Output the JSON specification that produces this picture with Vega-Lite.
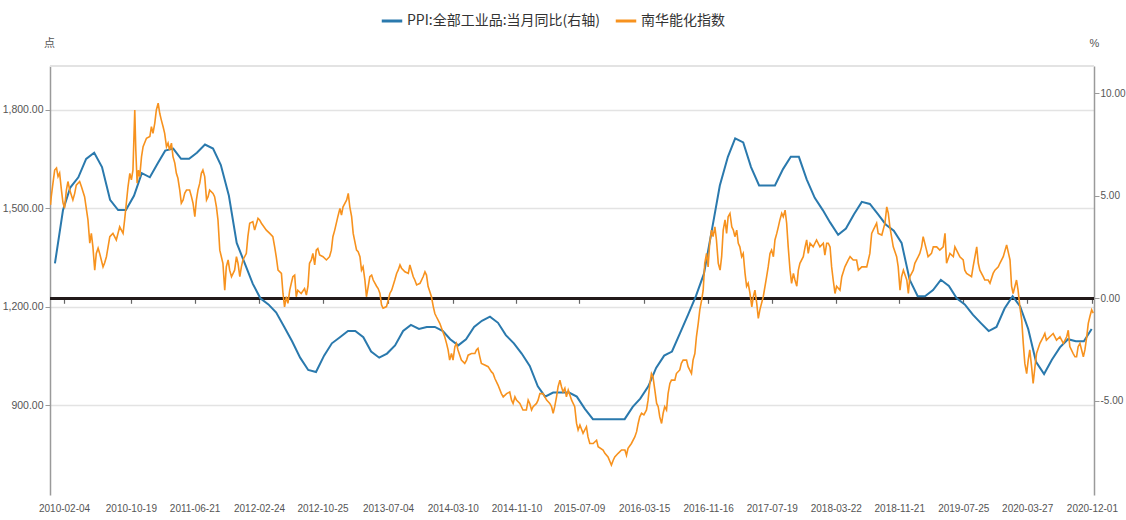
{
  "$schema": "https://vega.github.io/schema/vega-lite/v6.json",
  "width": 1044,
  "height": 429,
  "autosize": {"type": "none"},
  "padding": {"left": 50, "top": 66, "right": 32, "bottom": 25},
  "datasets": {
    "ppi": [
      {"date": "2009-12-31", "ppi": 1.7},
      {"date": "2010-01-31", "ppi": 4.3}, {"date": "2010-02-28", "ppi": 5.4}, {"date": "2010-03-31", "ppi": 5.9},
      {"date": "2010-04-30", "ppi": 6.8}, {"date": "2010-05-31", "ppi": 7.1}, {"date": "2010-06-30", "ppi": 6.4},
      {"date": "2010-07-31", "ppi": 4.8}, {"date": "2010-08-31", "ppi": 4.3}, {"date": "2010-09-30", "ppi": 4.3},
      {"date": "2010-10-31", "ppi": 5.0}, {"date": "2010-11-30", "ppi": 6.1}, {"date": "2010-12-31", "ppi": 5.9},
      {"date": "2011-01-31", "ppi": 6.6}, {"date": "2011-02-28", "ppi": 7.2}, {"date": "2011-03-31", "ppi": 7.3},
      {"date": "2011-04-30", "ppi": 6.8}, {"date": "2011-05-31", "ppi": 6.8}, {"date": "2011-06-30", "ppi": 7.1},
      {"date": "2011-07-31", "ppi": 7.5}, {"date": "2011-08-31", "ppi": 7.3}, {"date": "2011-09-30", "ppi": 6.5},
      {"date": "2011-10-31", "ppi": 5.0}, {"date": "2011-11-30", "ppi": 2.7}, {"date": "2011-12-31", "ppi": 1.7},
      {"date": "2012-01-31", "ppi": 0.7}, {"date": "2012-02-29", "ppi": 0.0}, {"date": "2012-03-31", "ppi": -0.3},
      {"date": "2012-04-30", "ppi": -0.7}, {"date": "2012-05-31", "ppi": -1.4}, {"date": "2012-06-30", "ppi": -2.1},
      {"date": "2012-07-31", "ppi": -2.9}, {"date": "2012-08-31", "ppi": -3.5}, {"date": "2012-09-30", "ppi": -3.6},
      {"date": "2012-10-31", "ppi": -2.8}, {"date": "2012-11-30", "ppi": -2.2}, {"date": "2012-12-31", "ppi": -1.9},
      {"date": "2013-01-31", "ppi": -1.6}, {"date": "2013-02-28", "ppi": -1.6}, {"date": "2013-03-31", "ppi": -1.9},
      {"date": "2013-04-30", "ppi": -2.6}, {"date": "2013-05-31", "ppi": -2.9}, {"date": "2013-06-30", "ppi": -2.7},
      {"date": "2013-07-31", "ppi": -2.3}, {"date": "2013-08-31", "ppi": -1.6}, {"date": "2013-09-30", "ppi": -1.3},
      {"date": "2013-10-31", "ppi": -1.5}, {"date": "2013-11-30", "ppi": -1.4}, {"date": "2013-12-31", "ppi": -1.4},
      {"date": "2014-01-31", "ppi": -1.6}, {"date": "2014-02-28", "ppi": -2.0}, {"date": "2014-03-31", "ppi": -2.3},
      {"date": "2014-04-30", "ppi": -2.0}, {"date": "2014-05-31", "ppi": -1.4}, {"date": "2014-06-30", "ppi": -1.1},
      {"date": "2014-07-31", "ppi": -0.9}, {"date": "2014-08-31", "ppi": -1.2}, {"date": "2014-09-30", "ppi": -1.8},
      {"date": "2014-10-31", "ppi": -2.2}, {"date": "2014-11-30", "ppi": -2.7}, {"date": "2014-12-31", "ppi": -3.3},
      {"date": "2015-01-31", "ppi": -4.3}, {"date": "2015-02-28", "ppi": -4.8}, {"date": "2015-03-31", "ppi": -4.6},
      {"date": "2015-04-30", "ppi": -4.6}, {"date": "2015-05-31", "ppi": -4.6}, {"date": "2015-06-30", "ppi": -4.8},
      {"date": "2015-07-31", "ppi": -5.4}, {"date": "2015-08-31", "ppi": -5.9}, {"date": "2015-09-30", "ppi": -5.9},
      {"date": "2015-10-31", "ppi": -5.9}, {"date": "2015-11-30", "ppi": -5.9}, {"date": "2015-12-31", "ppi": -5.9},
      {"date": "2016-01-31", "ppi": -5.3}, {"date": "2016-02-29", "ppi": -4.9}, {"date": "2016-03-31", "ppi": -4.3},
      {"date": "2016-04-30", "ppi": -3.4}, {"date": "2016-05-31", "ppi": -2.8}, {"date": "2016-06-30", "ppi": -2.6},
      {"date": "2016-07-31", "ppi": -1.7}, {"date": "2016-08-31", "ppi": -0.8}, {"date": "2016-09-30", "ppi": 0.1},
      {"date": "2016-10-31", "ppi": 1.2}, {"date": "2016-11-30", "ppi": 3.3}, {"date": "2016-12-31", "ppi": 5.5},
      {"date": "2017-01-31", "ppi": 6.9}, {"date": "2017-02-28", "ppi": 7.8}, {"date": "2017-03-31", "ppi": 7.6},
      {"date": "2017-04-30", "ppi": 6.4}, {"date": "2017-05-31", "ppi": 5.5}, {"date": "2017-06-30", "ppi": 5.5},
      {"date": "2017-07-31", "ppi": 5.5}, {"date": "2017-08-31", "ppi": 6.3}, {"date": "2017-09-30", "ppi": 6.9},
      {"date": "2017-10-31", "ppi": 6.9}, {"date": "2017-11-30", "ppi": 5.8}, {"date": "2017-12-31", "ppi": 4.9},
      {"date": "2018-01-31", "ppi": 4.3}, {"date": "2018-02-28", "ppi": 3.7}, {"date": "2018-03-31", "ppi": 3.1},
      {"date": "2018-04-30", "ppi": 3.4}, {"date": "2018-05-31", "ppi": 4.1}, {"date": "2018-06-30", "ppi": 4.7},
      {"date": "2018-07-31", "ppi": 4.6}, {"date": "2018-08-31", "ppi": 4.1}, {"date": "2018-09-30", "ppi": 3.6},
      {"date": "2018-10-31", "ppi": 3.3}, {"date": "2018-11-30", "ppi": 2.7}, {"date": "2018-12-31", "ppi": 0.9},
      {"date": "2019-01-31", "ppi": 0.1}, {"date": "2019-02-28", "ppi": 0.1}, {"date": "2019-03-31", "ppi": 0.4},
      {"date": "2019-04-30", "ppi": 0.9}, {"date": "2019-05-31", "ppi": 0.6}, {"date": "2019-06-30", "ppi": 0.0},
      {"date": "2019-07-31", "ppi": -0.3}, {"date": "2019-08-31", "ppi": -0.8}, {"date": "2019-09-30", "ppi": -1.2},
      {"date": "2019-10-31", "ppi": -1.6}, {"date": "2019-11-30", "ppi": -1.4}, {"date": "2019-12-31", "ppi": -0.5},
      {"date": "2020-01-31", "ppi": 0.1}, {"date": "2020-02-29", "ppi": -0.4}, {"date": "2020-03-31", "ppi": -1.5},
      {"date": "2020-04-30", "ppi": -3.1}, {"date": "2020-05-31", "ppi": -3.7}, {"date": "2020-06-30", "ppi": -3.0},
      {"date": "2020-07-31", "ppi": -2.4}, {"date": "2020-08-31", "ppi": -2.0}, {"date": "2020-09-30", "ppi": -2.1},
      {"date": "2020-10-31", "ppi": -2.1}, {"date": "2020-11-30", "ppi": -1.5}
    ],
    "nh": [
      {"date": "2009-12-14", "nh": 1510}, {"date": "2009-12-17", "nh": 1536}, {"date": "2009-12-24", "nh": 1580},
      {"date": "2009-12-30", "nh": 1616}, {"date": "2010-01-06", "nh": 1622}, {"date": "2010-01-12", "nh": 1596},
      {"date": "2010-01-18", "nh": 1607}, {"date": "2010-01-25", "nh": 1555}, {"date": "2010-01-31", "nh": 1516},
      {"date": "2010-02-06", "nh": 1500}, {"date": "2010-02-13", "nh": 1555}, {"date": "2010-02-19", "nh": 1581},
      {"date": "2010-02-26", "nh": 1555}, {"date": "2010-03-10", "nh": 1525}, {"date": "2010-03-17", "nh": 1545},
      {"date": "2010-03-23", "nh": 1570}, {"date": "2010-04-05", "nh": 1581}, {"date": "2010-04-12", "nh": 1565},
      {"date": "2010-04-24", "nh": 1535}, {"date": "2010-05-07", "nh": 1464}, {"date": "2010-05-14", "nh": 1393},
      {"date": "2010-05-20", "nh": 1423}, {"date": "2010-05-26", "nh": 1382}, {"date": "2010-06-02", "nh": 1311},
      {"date": "2010-06-08", "nh": 1362}, {"date": "2010-06-15", "nh": 1378}, {"date": "2010-06-21", "nh": 1362},
      {"date": "2010-07-04", "nh": 1321}, {"date": "2010-07-10", "nh": 1333}, {"date": "2010-07-17", "nh": 1352},
      {"date": "2010-07-30", "nh": 1413}, {"date": "2010-08-11", "nh": 1423}, {"date": "2010-08-24", "nh": 1403},
      {"date": "2010-09-06", "nh": 1443}, {"date": "2010-09-19", "nh": 1423}, {"date": "2010-09-25", "nh": 1464},
      {"date": "2010-10-08", "nh": 1565}, {"date": "2010-10-15", "nh": 1606}, {"date": "2010-10-21", "nh": 1586},
      {"date": "2010-10-27", "nh": 1616}, {"date": "2010-11-03", "nh": 1799}, {"date": "2010-11-07", "nh": 1677},
      {"date": "2010-11-12", "nh": 1576}, {"date": "2010-11-17", "nh": 1616}, {"date": "2010-11-22", "nh": 1596},
      {"date": "2010-11-29", "nh": 1657}, {"date": "2010-12-05", "nh": 1687}, {"date": "2010-12-18", "nh": 1713},
      {"date": "2010-12-31", "nh": 1718}, {"date": "2011-01-06", "nh": 1748}, {"date": "2011-01-12", "nh": 1728},
      {"date": "2011-01-19", "nh": 1759}, {"date": "2011-01-25", "nh": 1799}, {"date": "2011-02-01", "nh": 1820},
      {"date": "2011-02-07", "nh": 1789}, {"date": "2011-02-13", "nh": 1769}, {"date": "2011-02-20", "nh": 1748},
      {"date": "2011-02-26", "nh": 1728}, {"date": "2011-03-05", "nh": 1687}, {"date": "2011-03-11", "nh": 1698},
      {"date": "2011-03-17", "nh": 1677}, {"date": "2011-03-24", "nh": 1698}, {"date": "2011-03-30", "nh": 1657},
      {"date": "2011-04-06", "nh": 1637}, {"date": "2011-04-12", "nh": 1606}, {"date": "2011-04-18", "nh": 1591},
      {"date": "2011-04-25", "nh": 1555}, {"date": "2011-05-01", "nh": 1515}, {"date": "2011-05-08", "nh": 1525},
      {"date": "2011-05-14", "nh": 1545}, {"date": "2011-05-21", "nh": 1555}, {"date": "2011-06-02", "nh": 1555},
      {"date": "2011-06-09", "nh": 1535}, {"date": "2011-06-15", "nh": 1515}, {"date": "2011-06-22", "nh": 1474},
      {"date": "2011-06-28", "nh": 1525}, {"date": "2011-07-04", "nh": 1555}, {"date": "2011-07-11", "nh": 1576},
      {"date": "2011-07-17", "nh": 1606}, {"date": "2011-07-23", "nh": 1616}, {"date": "2011-07-30", "nh": 1596},
      {"date": "2011-08-06", "nh": 1525}, {"date": "2011-08-12", "nh": 1535}, {"date": "2011-08-18", "nh": 1555},
      {"date": "2011-08-31", "nh": 1545}, {"date": "2011-09-06", "nh": 1535}, {"date": "2011-09-13", "nh": 1504},
      {"date": "2011-09-19", "nh": 1464}, {"date": "2011-09-26", "nh": 1372}, {"date": "2011-10-08", "nh": 1332},
      {"date": "2011-10-15", "nh": 1250}, {"date": "2011-10-21", "nh": 1321}, {"date": "2011-10-28", "nh": 1342},
      {"date": "2011-11-03", "nh": 1311}, {"date": "2011-11-10", "nh": 1291}, {"date": "2011-11-22", "nh": 1311},
      {"date": "2011-11-29", "nh": 1352}, {"date": "2011-12-05", "nh": 1332}, {"date": "2011-12-12", "nh": 1291},
      {"date": "2011-12-18", "nh": 1321}, {"date": "2011-12-24", "nh": 1342}, {"date": "2012-01-06", "nh": 1362},
      {"date": "2012-01-12", "nh": 1413}, {"date": "2012-01-19", "nh": 1454}, {"date": "2012-01-31", "nh": 1459},
      {"date": "2012-02-07", "nh": 1433}, {"date": "2012-02-20", "nh": 1469}, {"date": "2012-02-26", "nh": 1464},
      {"date": "2012-03-04", "nh": 1454}, {"date": "2012-03-23", "nh": 1433}, {"date": "2012-04-05", "nh": 1423},
      {"date": "2012-04-17", "nh": 1413}, {"date": "2012-04-24", "nh": 1382}, {"date": "2012-04-30", "nh": 1352},
      {"date": "2012-05-07", "nh": 1311}, {"date": "2012-05-20", "nh": 1301}, {"date": "2012-05-26", "nh": 1240},
      {"date": "2012-06-01", "nh": 1199}, {"date": "2012-06-08", "nh": 1230}, {"date": "2012-06-14", "nh": 1210},
      {"date": "2012-06-21", "nh": 1250}, {"date": "2012-06-27", "nh": 1271}, {"date": "2012-07-03", "nh": 1291},
      {"date": "2012-07-10", "nh": 1296}, {"date": "2012-07-16", "nh": 1230}, {"date": "2012-07-22", "nh": 1250},
      {"date": "2012-08-04", "nh": 1240}, {"date": "2012-08-17", "nh": 1255}, {"date": "2012-08-24", "nh": 1235},
      {"date": "2012-08-30", "nh": 1262}, {"date": "2012-09-05", "nh": 1332}, {"date": "2012-09-12", "nh": 1342},
      {"date": "2012-09-18", "nh": 1362}, {"date": "2012-09-25", "nh": 1327}, {"date": "2012-10-01", "nh": 1372},
      {"date": "2012-10-07", "nh": 1377}, {"date": "2012-10-14", "nh": 1357}, {"date": "2012-10-27", "nh": 1352},
      {"date": "2012-11-09", "nh": 1342}, {"date": "2012-11-21", "nh": 1352}, {"date": "2012-11-28", "nh": 1372},
      {"date": "2012-12-04", "nh": 1413}, {"date": "2012-12-11", "nh": 1433}, {"date": "2012-12-23", "nh": 1474},
      {"date": "2012-12-31", "nh": 1499}, {"date": "2013-01-06", "nh": 1479}, {"date": "2013-01-12", "nh": 1504},
      {"date": "2013-01-26", "nh": 1525}, {"date": "2013-02-01", "nh": 1545}, {"date": "2013-02-07", "nh": 1504},
      {"date": "2013-02-14", "nh": 1474}, {"date": "2013-02-20", "nh": 1423}, {"date": "2013-03-05", "nh": 1372},
      {"date": "2013-03-11", "nh": 1367}, {"date": "2013-03-18", "nh": 1352}, {"date": "2013-03-24", "nh": 1311},
      {"date": "2013-03-30", "nh": 1321}, {"date": "2013-04-06", "nh": 1281}, {"date": "2013-04-12", "nh": 1230},
      {"date": "2013-04-19", "nh": 1262}, {"date": "2013-04-25", "nh": 1291}, {"date": "2013-05-02", "nh": 1296},
      {"date": "2013-05-08", "nh": 1281}, {"date": "2013-05-21", "nh": 1262}, {"date": "2013-05-27", "nh": 1255},
      {"date": "2013-06-03", "nh": 1240}, {"date": "2013-06-09", "nh": 1205}, {"date": "2013-06-15", "nh": 1195},
      {"date": "2013-06-28", "nh": 1200}, {"date": "2013-07-05", "nh": 1220}, {"date": "2013-07-11", "nh": 1240},
      {"date": "2013-07-18", "nh": 1250}, {"date": "2013-07-30", "nh": 1281}, {"date": "2013-08-06", "nh": 1301},
      {"date": "2013-08-12", "nh": 1311}, {"date": "2013-08-19", "nh": 1327}, {"date": "2013-08-25", "nh": 1317},
      {"date": "2013-09-07", "nh": 1306}, {"date": "2013-09-20", "nh": 1301}, {"date": "2013-09-26", "nh": 1327},
      {"date": "2013-10-09", "nh": 1291}, {"date": "2013-10-15", "nh": 1281}, {"date": "2013-10-22", "nh": 1266},
      {"date": "2013-11-04", "nh": 1271}, {"date": "2013-11-16", "nh": 1291}, {"date": "2013-11-23", "nh": 1306},
      {"date": "2013-11-29", "nh": 1296}, {"date": "2013-12-05", "nh": 1262}, {"date": "2013-12-18", "nh": 1230},
      {"date": "2013-12-25", "nh": 1200}, {"date": "2013-12-31", "nh": 1179}, {"date": "2014-01-06", "nh": 1169},
      {"date": "2014-01-19", "nh": 1149}, {"date": "2014-01-26", "nh": 1134}, {"date": "2014-02-07", "nh": 1108},
      {"date": "2014-02-14", "nh": 1088}, {"date": "2014-02-20", "nh": 1068}, {"date": "2014-02-26", "nh": 1037},
      {"date": "2014-03-05", "nh": 1057}, {"date": "2014-03-11", "nh": 1037}, {"date": "2014-03-18", "nh": 1078},
      {"date": "2014-03-24", "nh": 1088}, {"date": "2014-03-30", "nh": 1068}, {"date": "2014-04-12", "nh": 1037},
      {"date": "2014-04-25", "nh": 1027}, {"date": "2014-05-02", "nh": 1037}, {"date": "2014-05-08", "nh": 1052},
      {"date": "2014-05-21", "nh": 1057}, {"date": "2014-06-03", "nh": 1057}, {"date": "2014-06-09", "nh": 1068},
      {"date": "2014-06-15", "nh": 1073}, {"date": "2014-06-22", "nh": 1047}, {"date": "2014-06-28", "nh": 1027},
      {"date": "2014-07-11", "nh": 1022}, {"date": "2014-07-24", "nh": 1017}, {"date": "2014-08-06", "nh": 1001},
      {"date": "2014-08-12", "nh": 996}, {"date": "2014-08-19", "nh": 981}, {"date": "2014-08-31", "nh": 961},
      {"date": "2014-09-13", "nh": 935}, {"date": "2014-09-20", "nh": 925}, {"date": "2014-10-03", "nh": 935},
      {"date": "2014-10-15", "nh": 940}, {"date": "2014-10-22", "nh": 915}, {"date": "2014-10-28", "nh": 905},
      {"date": "2014-11-04", "nh": 925}, {"date": "2014-11-10", "nh": 915}, {"date": "2014-11-23", "nh": 905},
      {"date": "2014-12-05", "nh": 885}, {"date": "2014-12-18", "nh": 885}, {"date": "2014-12-25", "nh": 915},
      {"date": "2014-12-31", "nh": 905}, {"date": "2015-01-07", "nh": 885}, {"date": "2015-01-13", "nh": 895},
      {"date": "2015-01-26", "nh": 905}, {"date": "2015-02-01", "nh": 915}, {"date": "2015-02-08", "nh": 935},
      {"date": "2015-02-20", "nh": 935}, {"date": "2015-02-27", "nh": 925}, {"date": "2015-03-06", "nh": 915},
      {"date": "2015-03-12", "nh": 910}, {"date": "2015-03-18", "nh": 905}, {"date": "2015-03-25", "nh": 895},
      {"date": "2015-03-31", "nh": 875}, {"date": "2015-04-06", "nh": 895}, {"date": "2015-04-13", "nh": 925},
      {"date": "2015-04-19", "nh": 956}, {"date": "2015-04-26", "nh": 976}, {"date": "2015-05-02", "nh": 956},
      {"date": "2015-05-08", "nh": 940}, {"date": "2015-05-15", "nh": 951}, {"date": "2015-05-21", "nh": 925},
      {"date": "2015-05-28", "nh": 946}, {"date": "2015-06-10", "nh": 915}, {"date": "2015-06-22", "nh": 895},
      {"date": "2015-06-29", "nh": 844}, {"date": "2015-07-05", "nh": 824}, {"date": "2015-07-12", "nh": 839},
      {"date": "2015-07-24", "nh": 814}, {"date": "2015-08-06", "nh": 834}, {"date": "2015-08-12", "nh": 803},
      {"date": "2015-08-19", "nh": 783}, {"date": "2015-09-01", "nh": 783}, {"date": "2015-09-14", "nh": 793},
      {"date": "2015-09-20", "nh": 773}, {"date": "2015-10-09", "nh": 763}, {"date": "2015-10-16", "nh": 753},
      {"date": "2015-10-28", "nh": 742}, {"date": "2015-11-10", "nh": 717}, {"date": "2015-11-17", "nh": 732},
      {"date": "2015-11-23", "nh": 742}, {"date": "2015-12-06", "nh": 753}, {"date": "2015-12-19", "nh": 763},
      {"date": "2016-01-01", "nh": 763}, {"date": "2016-01-07", "nh": 747}, {"date": "2016-01-13", "nh": 768},
      {"date": "2016-01-26", "nh": 783}, {"date": "2016-02-08", "nh": 803}, {"date": "2016-02-15", "nh": 819},
      {"date": "2016-02-21", "nh": 844}, {"date": "2016-02-27", "nh": 864}, {"date": "2016-03-05", "nh": 875},
      {"date": "2016-03-14", "nh": 870}, {"date": "2016-03-24", "nh": 885}, {"date": "2016-03-30", "nh": 915},
      {"date": "2016-04-06", "nh": 966}, {"date": "2016-04-12", "nh": 996}, {"date": "2016-04-18", "nh": 986},
      {"date": "2016-04-25", "nh": 946}, {"date": "2016-05-02", "nh": 905}, {"date": "2016-05-08", "nh": 895},
      {"date": "2016-05-14", "nh": 864}, {"date": "2016-05-21", "nh": 844}, {"date": "2016-05-27", "nh": 875},
      {"date": "2016-06-02", "nh": 895}, {"date": "2016-06-09", "nh": 885}, {"date": "2016-06-15", "nh": 935},
      {"date": "2016-06-22", "nh": 966}, {"date": "2016-06-28", "nh": 976}, {"date": "2016-07-11", "nh": 976},
      {"date": "2016-07-17", "nh": 996}, {"date": "2016-07-30", "nh": 1007}, {"date": "2016-08-05", "nh": 1027},
      {"date": "2016-08-12", "nh": 1037}, {"date": "2016-08-25", "nh": 1037}, {"date": "2016-08-31", "nh": 1017},
      {"date": "2016-09-13", "nh": 996}, {"date": "2016-09-19", "nh": 1037}, {"date": "2016-09-26", "nh": 1057},
      {"date": "2016-10-02", "nh": 1108}, {"date": "2016-10-09", "nh": 1149}, {"date": "2016-10-15", "nh": 1190},
      {"date": "2016-10-22", "nh": 1220}, {"date": "2016-10-28", "nh": 1250}, {"date": "2016-11-03", "nh": 1332},
      {"date": "2016-11-10", "nh": 1362}, {"date": "2016-11-16", "nh": 1321}, {"date": "2016-11-22", "nh": 1393},
      {"date": "2016-11-29", "nh": 1433}, {"date": "2016-12-05", "nh": 1413}, {"date": "2016-12-12", "nh": 1443},
      {"date": "2016-12-18", "nh": 1403}, {"date": "2016-12-25", "nh": 1332}, {"date": "2017-01-01", "nh": 1311},
      {"date": "2017-01-07", "nh": 1352}, {"date": "2017-01-13", "nh": 1433}, {"date": "2017-01-20", "nh": 1464},
      {"date": "2017-01-26", "nh": 1423}, {"date": "2017-02-01", "nh": 1474}, {"date": "2017-02-08", "nh": 1484},
      {"date": "2017-02-15", "nh": 1443}, {"date": "2017-02-21", "nh": 1433}, {"date": "2017-02-27", "nh": 1413},
      {"date": "2017-03-06", "nh": 1433}, {"date": "2017-03-12", "nh": 1393}, {"date": "2017-03-18", "nh": 1382},
      {"date": "2017-03-25", "nh": 1352}, {"date": "2017-03-31", "nh": 1362}, {"date": "2017-04-07", "nh": 1301},
      {"date": "2017-04-13", "nh": 1262}, {"date": "2017-04-19", "nh": 1271}, {"date": "2017-04-26", "nh": 1240},
      {"date": "2017-05-03", "nh": 1199}, {"date": "2017-05-09", "nh": 1230}, {"date": "2017-05-15", "nh": 1250},
      {"date": "2017-05-22", "nh": 1210}, {"date": "2017-05-28", "nh": 1164}, {"date": "2017-06-03", "nh": 1190},
      {"date": "2017-06-16", "nh": 1230}, {"date": "2017-06-29", "nh": 1291}, {"date": "2017-07-05", "nh": 1321},
      {"date": "2017-07-12", "nh": 1362}, {"date": "2017-07-18", "nh": 1372}, {"date": "2017-07-25", "nh": 1352},
      {"date": "2017-07-31", "nh": 1403}, {"date": "2017-08-07", "nh": 1423}, {"date": "2017-08-13", "nh": 1443},
      {"date": "2017-08-19", "nh": 1464}, {"date": "2017-08-26", "nh": 1484}, {"date": "2017-09-01", "nh": 1474},
      {"date": "2017-09-08", "nh": 1494}, {"date": "2017-09-14", "nh": 1454}, {"date": "2017-09-20", "nh": 1382},
      {"date": "2017-09-27", "nh": 1311}, {"date": "2017-10-03", "nh": 1271}, {"date": "2017-10-10", "nh": 1301},
      {"date": "2017-10-16", "nh": 1281}, {"date": "2017-10-23", "nh": 1262}, {"date": "2017-10-29", "nh": 1311},
      {"date": "2017-11-04", "nh": 1332}, {"date": "2017-11-17", "nh": 1352}, {"date": "2017-11-24", "nh": 1382},
      {"date": "2017-11-30", "nh": 1403}, {"date": "2017-12-06", "nh": 1362}, {"date": "2017-12-13", "nh": 1393},
      {"date": "2017-12-25", "nh": 1382}, {"date": "2018-01-07", "nh": 1403}, {"date": "2018-01-20", "nh": 1382},
      {"date": "2018-02-02", "nh": 1393}, {"date": "2018-02-08", "nh": 1357}, {"date": "2018-02-15", "nh": 1393},
      {"date": "2018-02-21", "nh": 1393}, {"date": "2018-02-28", "nh": 1382}, {"date": "2018-03-06", "nh": 1321},
      {"date": "2018-03-12", "nh": 1281}, {"date": "2018-03-19", "nh": 1240}, {"date": "2018-03-25", "nh": 1262},
      {"date": "2018-04-07", "nh": 1250}, {"date": "2018-04-14", "nh": 1291}, {"date": "2018-04-26", "nh": 1321},
      {"date": "2018-05-09", "nh": 1342}, {"date": "2018-05-16", "nh": 1352}, {"date": "2018-05-28", "nh": 1342},
      {"date": "2018-06-10", "nh": 1342}, {"date": "2018-06-17", "nh": 1311}, {"date": "2018-06-30", "nh": 1321},
      {"date": "2018-07-19", "nh": 1321}, {"date": "2018-07-31", "nh": 1362}, {"date": "2018-08-07", "nh": 1423},
      {"date": "2018-08-13", "nh": 1433}, {"date": "2018-08-26", "nh": 1454}, {"date": "2018-09-01", "nh": 1423},
      {"date": "2018-09-15", "nh": 1418}, {"date": "2018-09-27", "nh": 1454}, {"date": "2018-10-04", "nh": 1504},
      {"date": "2018-10-10", "nh": 1484}, {"date": "2018-10-16", "nh": 1443}, {"date": "2018-10-29", "nh": 1382},
      {"date": "2018-11-11", "nh": 1352}, {"date": "2018-11-17", "nh": 1321}, {"date": "2018-11-24", "nh": 1250},
      {"date": "2018-11-30", "nh": 1291}, {"date": "2018-12-07", "nh": 1311}, {"date": "2018-12-20", "nh": 1281},
      {"date": "2018-12-26", "nh": 1240}, {"date": "2019-01-01", "nh": 1291}, {"date": "2019-01-14", "nh": 1311},
      {"date": "2019-01-20", "nh": 1332}, {"date": "2019-02-02", "nh": 1352}, {"date": "2019-02-08", "nh": 1362},
      {"date": "2019-02-15", "nh": 1382}, {"date": "2019-02-21", "nh": 1413}, {"date": "2019-03-06", "nh": 1372},
      {"date": "2019-03-12", "nh": 1352}, {"date": "2019-03-25", "nh": 1362}, {"date": "2019-04-01", "nh": 1382},
      {"date": "2019-04-14", "nh": 1382}, {"date": "2019-04-26", "nh": 1372}, {"date": "2019-05-09", "nh": 1382},
      {"date": "2019-05-16", "nh": 1423}, {"date": "2019-05-22", "nh": 1332}, {"date": "2019-06-04", "nh": 1362},
      {"date": "2019-06-17", "nh": 1352}, {"date": "2019-06-23", "nh": 1382}, {"date": "2019-07-12", "nh": 1352},
      {"date": "2019-07-25", "nh": 1342}, {"date": "2019-07-31", "nh": 1311}, {"date": "2019-08-07", "nh": 1301},
      {"date": "2019-08-26", "nh": 1291}, {"date": "2019-09-01", "nh": 1321}, {"date": "2019-09-15", "nh": 1382},
      {"date": "2019-09-21", "nh": 1332}, {"date": "2019-09-27", "nh": 1311}, {"date": "2019-10-10", "nh": 1291},
      {"date": "2019-10-16", "nh": 1281}, {"date": "2019-10-29", "nh": 1281}, {"date": "2019-11-05", "nh": 1271},
      {"date": "2019-11-17", "nh": 1301}, {"date": "2019-11-24", "nh": 1311}, {"date": "2019-12-07", "nh": 1321},
      {"date": "2019-12-13", "nh": 1332}, {"date": "2019-12-26", "nh": 1352}, {"date": "2020-01-08", "nh": 1388},
      {"date": "2020-01-21", "nh": 1342}, {"date": "2020-01-27", "nh": 1262}, {"date": "2020-02-02", "nh": 1240},
      {"date": "2020-02-15", "nh": 1281}, {"date": "2020-02-21", "nh": 1250}, {"date": "2020-02-28", "nh": 1199},
      {"date": "2020-03-06", "nh": 1159}, {"date": "2020-03-12", "nh": 1088}, {"date": "2020-03-18", "nh": 1027},
      {"date": "2020-03-25", "nh": 996}, {"date": "2020-03-31", "nh": 1037}, {"date": "2020-04-06", "nh": 1068},
      {"date": "2020-04-13", "nh": 1017}, {"date": "2020-04-19", "nh": 966}, {"date": "2020-04-26", "nh": 1017},
      {"date": "2020-05-02", "nh": 1057}, {"date": "2020-05-15", "nh": 1088}, {"date": "2020-05-28", "nh": 1108},
      {"date": "2020-06-03", "nh": 1118}, {"date": "2020-06-09", "nh": 1098}, {"date": "2020-06-22", "nh": 1108},
      {"date": "2020-07-05", "nh": 1118}, {"date": "2020-07-18", "nh": 1098}, {"date": "2020-07-31", "nh": 1108},
      {"date": "2020-08-13", "nh": 1088}, {"date": "2020-08-26", "nh": 1108}, {"date": "2020-09-01", "nh": 1128},
      {"date": "2020-09-07", "nh": 1078}, {"date": "2020-09-20", "nh": 1057}, {"date": "2020-09-27", "nh": 1047},
      {"date": "2020-10-03", "nh": 1047}, {"date": "2020-10-09", "nh": 1078}, {"date": "2020-10-16", "nh": 1088},
      {"date": "2020-10-29", "nh": 1047}, {"date": "2020-11-04", "nh": 1068}, {"date": "2020-11-11", "nh": 1108},
      {"date": "2020-11-17", "nh": 1149}, {"date": "2020-11-23", "nh": 1169}, {"date": "2020-11-30", "nh": 1190},
      {"date": "2020-12-06", "nh": 1180}
    ]
  },
  "layer": [
    {
      "data": {"name": "ppi"},
      "layer": [
        {
          "mark": {"type": "rule", "color": "#231a1a", "strokeWidth": 2.2},
          "encoding": {
            "y": {"datum": 0, "type": "quantitative"}
          }
        },
        {
          "mark": {"type": "line", "strokeWidth": 2, "clip": true},
          "encoding": {
            "x": {
              "field": "date",
              "type": "temporal",
              "scale": {"domain": [{"year": 2009, "month": 12, "date": 12, "utc": true}, {"year": 2020, "month": 12, "date": 9, "utc": true}]},
              "axis": {
                "orient": "bottom",
                "offset": -196.7,
                "values": [
                  {"year": 2010, "month": 2, "date": 4, "utc": true},
                  {"year": 2010, "month": 10, "date": 19, "utc": true},
                  {"year": 2011, "month": 6, "date": 21, "utc": true},
                  {"year": 2012, "month": 2, "date": 24, "utc": true},
                  {"year": 2012, "month": 10, "date": 25, "utc": true},
                  {"year": 2013, "month": 7, "date": 4, "utc": true},
                  {"year": 2014, "month": 3, "date": 10, "utc": true},
                  {"year": 2014, "month": 11, "date": 10, "utc": true},
                  {"year": 2015, "month": 7, "date": 9, "utc": true},
                  {"year": 2016, "month": 3, "date": 15, "utc": true},
                  {"year": 2016, "month": 11, "date": 16, "utc": true},
                  {"year": 2017, "month": 7, "date": 19, "utc": true},
                  {"year": 2018, "month": 3, "date": 22, "utc": true},
                  {"year": 2018, "month": 11, "date": 21, "utc": true},
                  {"year": 2019, "month": 7, "date": 25, "utc": true},
                  {"year": 2020, "month": 3, "date": 27, "utc": true},
                  {"year": 2020, "month": 12, "date": 1, "utc": true}
                ],
                "labels": false,
                "domain": false,
                "grid": false,
                "ticks": true,
                "tickSize": 5,
                "tickColor": "#666666",
                "tickWidth": 1.2,
                "title": null
              }
            },
            "y": {
              "field": "ppi",
              "type": "quantitative",
              "scale": {"domain": [-9.6, 11.33], "nice": false, "zero": false},
              "axis": {
                "orient": "right",
                "values": [-5, 0, 5, 10],
                "labelExpr": "replace(format(datum.value, '.2f'), '−', '-')",
                "grid": false,
                "domainColor": "#9a9a9a",
                "domainWidth": 1.5,
                "tickColor": "#9a9a9a",
                "tickSize": 5,
                "labelPadding": 1,
                "labelFont": "Liberation Sans",
                "labelFontSize": 10,
                "labelColor": "#555555",
                "title": "%",
                "titleAngle": 0,
                "titleX": 0,
                "titleY": -23,
                "titleAlign": "center",
                "titleBaseline": "middle",
                "titleFont": "Liberation Sans",
                "titleFontSize": 11,
                "titleFontWeight": "normal",
                "titleColor": "#555555"
              }
            },
            "color": {
              "datum": "PPI:全部工业品:当月同比(右轴)",
              "scale": {"domain": ["PPI:全部工业品:当月同比(右轴)", "南华能化指数"], "range": ["#2a79ad", "#f7921e"]},
              "legend": {
                "orient": "none",
                "legendX": 330,
                "legendY": -57,
                "direction": "horizontal",
                "title": null,
                "symbolType": "stroke",
                "symbolSize": 420,
                "symbolStrokeWidth": 3,
                "labelFont": "Noto Sans CJK SC",
                "labelFontSize": 14,
                "labelColor": "#333333",
                "labelOffset": 3,
                "labelLimit": 400,
                "columnPadding": 8,
                "padding": 0
              }
            }
          }
        }
      ]
    },
    {
      "data": {"name": "nh"},
      "layer": [
        {
          "mark": {"type": "rule", "color": "#e3e3e3", "strokeWidth": 1.5},
          "encoding": {
            "y": {"datum": 1933, "type": "quantitative"}
          }
        },
        {
          "mark": {"type": "line", "strokeWidth": 1.6, "clip": true},
          "encoding": {
            "x": {
              "field": "date",
              "type": "temporal",
              "scale": {"domain": [{"year": 2009, "month": 12, "date": 12, "utc": true}, {"year": 2020, "month": 12, "date": 9, "utc": true}]},
              "axis": {
                "orient": "bottom",
                "values": [
                  {"year": 2010, "month": 2, "date": 4, "utc": true},
                  {"year": 2010, "month": 10, "date": 19, "utc": true},
                  {"year": 2011, "month": 6, "date": 21, "utc": true},
                  {"year": 2012, "month": 2, "date": 24, "utc": true},
                  {"year": 2012, "month": 10, "date": 25, "utc": true},
                  {"year": 2013, "month": 7, "date": 4, "utc": true},
                  {"year": 2014, "month": 3, "date": 10, "utc": true},
                  {"year": 2014, "month": 11, "date": 10, "utc": true},
                  {"year": 2015, "month": 7, "date": 9, "utc": true},
                  {"year": 2016, "month": 3, "date": 15, "utc": true},
                  {"year": 2016, "month": 11, "date": 16, "utc": true},
                  {"year": 2017, "month": 7, "date": 19, "utc": true},
                  {"year": 2018, "month": 3, "date": 22, "utc": true},
                  {"year": 2018, "month": 11, "date": 21, "utc": true},
                  {"year": 2019, "month": 7, "date": 25, "utc": true},
                  {"year": 2020, "month": 3, "date": 27, "utc": true},
                  {"year": 2020, "month": 12, "date": 1, "utc": true}
                ],
                "labelExpr": "utcFormat(datum.value, '%Y-%m-%d')",
                "labelFlush": false,
                "labelOverlap": false,
                "labelPadding": 8,
                "labelFont": "Liberation Sans",
                "labelFontSize": 10,
                "labelColor": "#555555",
                "ticks": false,
                "domain": false,
                "grid": false,
                "title": null
              }
            },
            "y": {
              "field": "nh",
              "type": "quantitative",
              "scale": {"domain": [626, 1933], "nice": false, "zero": false},
              "axis": {
                "orient": "left",
                "values": [900, 1200, 1500, 1800],
                "format": ",.2f",
                "grid": true,
                "gridColor": "#e3e3e3",
                "gridWidth": 1.5,
                "domainColor": "#9a9a9a",
                "domainWidth": 1.5,
                "tickColor": "#9a9a9a",
                "tickSize": 5,
                "labelPadding": 2,
                "labelFont": "Liberation Sans",
                "labelFontSize": 10.5,
                "labelColor": "#555555",
                "title": "点",
                "titleAngle": 0,
                "titleX": -1,
                "titleY": -23,
                "titleAlign": "center",
                "titleBaseline": "middle",
                "titleFont": "Noto Sans CJK SC",
                "titleFontSize": 11,
                "titleFontWeight": "normal",
                "titleColor": "#555555"
              }
            },
            "color": {
              "datum": "南华能化指数",
              "scale": {"domain": ["PPI:全部工业品:当月同比(右轴)", "南华能化指数"], "range": ["#2a79ad", "#f7921e"]}
            }
          }
        }
      ]
    }
  ],
  "resolve": {"scale": {"y": "independent"}, "axis": {"x": "independent"}},
  "config": {
    "view": {"stroke": null},
    "font": "Liberation Sans"
  }
}
